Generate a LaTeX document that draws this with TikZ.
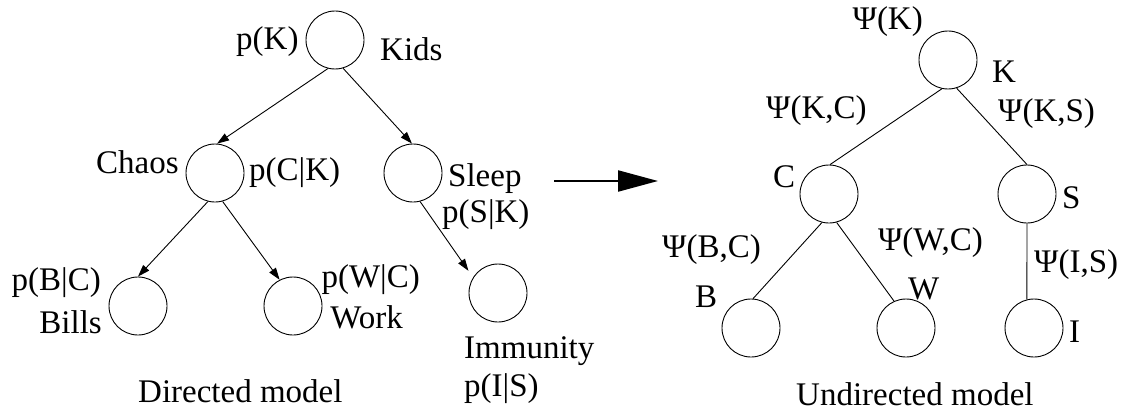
\documentclass[tikz,border=0pt]{standalone}
\usepackage{fontspec}
\setmainfont{Liberation Serif}
\usetikzlibrary{arrows.meta}
\begin{document}
\begin{tikzpicture}[x=1pt,y=-1pt,
  var/.style={circle,draw,line width=0.9pt,minimum size=58pt,inner sep=0pt},
  lbl/.style={inner sep=0pt,font=\fontsize{33}{40}\selectfont},
  lw/.style={lbl,anchor=base west},
  le/.style={lbl,anchor=base east},
  link/.style={line width=0.9pt},
  dirlink/.style={link,-{Triangle[length=12pt,width=8pt]}},
  bigarrow/.style={line width=2.2pt,-{Triangle[length=40pt,width=21pt]}}]
\useasboundingbox (0,0) rectangle (1127,412);

% ---- directed model ----
\node[var] (K) at (335,40) {};
\node[var] (C) at (215,173) {};
\node[var] (S) at (413,173) {};
\node[var] (B) at (138,306) {};
\node[var] (W) at (293,306) {};
\node[var] (I) at (498,293) {};

\draw[dirlink] (K.256) -- (C.86);
\draw[dirlink] (K.286) -- (S.92);
\draw[dirlink] (C.256) -- (B.90);
\draw[dirlink] (C.285) -- (W.117);
\draw[dirlink,shorten >=8pt] (S.284) -- (I.148);

\node[lw] (pK) at (236,49) {p(K)};
\node[lw] (kids) at (380,60) {Kids};
\node[lw] (chaos) at (96,173) {Chaos};
\node[lw] (pC) at (249,180) {p(C|K)};
\node[lw] (sleep) at (448,186) {Sleep};
\node[lw] (pS) at (442,222) {p(S|K)};
\node[le] (pB) at (101,290) {p(B|C)};
\node[le] (bills) at (102,333) {Bills};
\node[le] (pW) at (420,287) {p(W|C)};
\node[le] (work) at (403,328) {Work};
\node[lw] (immu) at (464,358) {Immunity};
\node[lw] (pI) at (464,396) {p(I|S)};
\node[lw] (dtitle) at (138,402) {Directed model};

% ---- transformation arrow ----
\coordinate (arrS) at (554,181);
\coordinate (arrE) at (658,181);
\draw[bigarrow] (arrS) -- (arrE);

% ---- undirected model ----
\node[var] (K2) at (948,60) {};
\node[var] (C2) at (829,194) {};
\node[var] (S2) at (1027,194) {};
\node[var] (B2) at (751,328) {};
\node[var] (W2) at (906,328) {};
\node[var] (I2) at (1034,328) {};

\draw[link] (K2.258) -- (C2.88);
\draw[link] (K2.287) -- (S2.90);
\draw[link] (C2.256) -- (B2.86);
\draw[link] (C2.285) -- (W2.114);
\draw[link] (S2.270) -- (I2.104);

\node[le] (psiK) at (923,30) {Ψ(K)};
\node[lw] (lK) at (992,82) {K};
\node[lw] (psiKC) at (766,118) {Ψ(K,C)};
\node[lw] (psiKS) at (998,121) {Ψ(K,S)};
\node[lw] (lC) at (773,187) {C};
\node[lw] (lS) at (1062,208) {S};
\node[lw] (psiBC) at (662,257) {Ψ(B,C)};
\node[le] (psiWC) at (983,250) {Ψ(W,C)};
\node[lw] (psiIS) at (1034,272) {Ψ(I,S)};
\node[lw] (lB) at (695,307) {B};
\node[lw] (lW) at (908,299) {W};
\node[lw] (lI) at (1069,342) {I};
\node[lw] (utitle) at (796,405) {Undirected model};
\end{tikzpicture}
\end{document}
